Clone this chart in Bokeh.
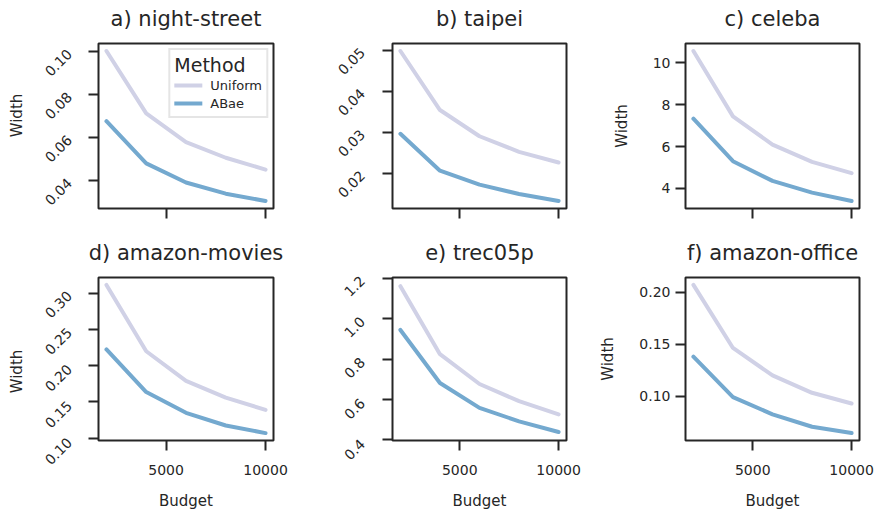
import math
from bokeh.plotting import figure
from bokeh.layouts import column, row
from bokeh.models import (FixedTicker, PrintfTickFormatter, Range1d, Legend, LegendItem,
                          LinearAxis)
from bokeh.core.properties import value
from bokeh.embed import file_html
from bokeh.resources import INLINE

budget = [2000, 4000, 6000, 8000, 10000]

titles = ["a) night-street", "b) taipei", "c) celeba",
          "d) amazon-movies", "e) trec05p", "f) amazon-office"]

uniform_night = [0.1003, 0.0713, 0.0580, 0.0507, 0.0452]
abae_night = [0.0677, 0.0481, 0.0392, 0.0340, 0.0306]
uniform_taipei = [0.0498, 0.0354, 0.0290, 0.0252, 0.0226]
abae_taipei = [0.0296, 0.0206, 0.0172, 0.0149, 0.0132]
uniform_celeba = [10.56, 7.44, 6.09, 5.27, 4.73]
abae_celeba = [7.33, 5.30, 4.36, 3.80, 3.40]
uniform_movies = [0.3116, 0.220, 0.179, 0.156, 0.139]
abae_movies = [0.2225, 0.1636, 0.135, 0.1175, 0.107]
uniform_trec = [1.161, 0.824, 0.676, 0.591, 0.525]
abae_trec = [0.944, 0.681, 0.558, 0.491, 0.438]
uniform_office = [0.2071, 0.1464, 0.120, 0.1032, 0.0929]
abae_office = [0.138, 0.099, 0.0825, 0.0705, 0.0644]

y_ticks = [[0.04, 0.06, 0.08, 0.10], [0.02, 0.03, 0.04, 0.05], [4, 6, 8, 10],
           [0.10, 0.15, 0.20, 0.25, 0.30], [0.4, 0.6, 0.8, 1.0, 1.2], [0.10, 0.15, 0.20]]
y_formats = ["%.2f", "%.2f", "%d", "%.2f", "%.1f", "%.2f"]
x_ticks = [5000, 10000]
method_names = ["Uniform", "ABae"]

series = [(uniform_night, abae_night), (uniform_taipei, abae_taipei),
          (uniform_celeba, abae_celeba), (uniform_movies, abae_movies),
          (uniform_trec, abae_trec), (uniform_office, abae_office)]

C_UNI = "#d0d1e6"
C_ABAE = "#74a9cf"
TXT = "#262626"
FONT = "DejaVu Sans"
X_START, X_END = 1600, 10400
FRAME_H = 165
PANEL_W = 293
RIGHT_B = 20
TICK_B = 12          # left border of a main figure whose labels sit in a strip
LABEL_ANCHOR = 69    # px from panel left where rotated labels end

rotated = [True, True, False, True, True, False]
has_ylabel = [True, False, True, True, False, True]


def style_axis(ax):
    ax.axis_line_color = None
    ax.major_tick_line_color = TXT
    ax.major_tick_line_width = 2
    ax.major_tick_out = 10
    ax.major_tick_in = 0
    ax.minor_tick_line_color = None
    ax.major_label_text_font = FONT
    ax.major_label_text_font_size = "14px"
    ax.major_label_text_color = TXT
    ax.axis_label_text_font = FONT
    ax.axis_label_text_font_size = "15px"
    ax.axis_label_text_font_style = "normal"
    ax.axis_label_text_color = TXT


def y_limits(i):
    uni, ab = series[i]
    lo = min(min(uni), min(ab))
    hi = max(max(uni), max(ab))
    if i == 4:
        lo = min(lo, min(y_ticks[i]))
        hi = max(hi, max(y_ticks[i]))
        pad = (hi - lo) * 0.005
    else:
        pad = (hi - lo) * 0.05
    return lo - pad, hi + pad


def make_label_strip(i, y0, y1, top, bottom, height, width):
    k = (y1 - y0) / FRAME_H
    left_b = 30 if has_ylabel[i] else 0
    f = figure(width=width, height=height, output_backend="svg", toolbar_location=None,
               x_range=Range1d(0, 1), y_range=Range1d(y0 - bottom * k, y1 + top * k),
               x_axis_type=None, y_axis_type=None,
               min_border_left=left_b, min_border_right=0,
               min_border_top=0, min_border_bottom=0)
    try:
        # keep this strip's frame the full height instead of aligning it to the panel's frame
        f.frame_align = False
    except Exception:
        f.y_range = Range1d(y0, y1)
    f.outline_line_color = None
    f.background_fill_color = "white"
    f.border_fill_color = "white"
    labels = [y_formats[i] % v for v in y_ticks[i]]
    f.text(x=[1] * len(labels), y=y_ticks[i], text=labels,
           angle=math.pi / 4, text_align="right", text_baseline="middle",
           x_offset=LABEL_ANCHOR - width,
           text_font=value(FONT), text_font_size=value("14px"), text_color=TXT)
    if has_ylabel[i]:
        ax = LinearAxis(ticker=FixedTicker(ticks=[]), bounds=(y0, y1), axis_label="Width")
        style_axis(ax)
        ax.major_tick_out = 0
        ax.major_label_standoff = 0
        ax.axis_label_standoff = 5
        f.add_layout(ax, "left")
    return f


def make_panel(i):
    top_row = i < 3
    col = i % 3
    height = 230 if top_row else 282
    left = 98 if col == 0 else 99
    frame_w = PANEL_W - left - RIGHT_B
    top = 43 if top_row else 47
    bottom = 22 if top_row else 70
    uni, ab = series[i]
    y0, y1 = y_limits(i)
    main_left = TICK_B if rotated[i] else left
    main_w = main_left + frame_w + RIGHT_B
    p = figure(width=main_w, height=height, output_backend="svg", toolbar_location=None,
               x_range=Range1d(X_START, X_END), y_range=Range1d(y0, y1),
               x_axis_type=None, y_axis_type=None,
               min_border_left=main_left, min_border_right=RIGHT_B,
               min_border_top=top, min_border_bottom=bottom)
    p.outline_line_color = TXT
    p.outline_line_width = 2
    p.outline_line_alpha = 1
    p.background_fill_color = "white"
    p.border_fill_color = "white"

    bx = LinearAxis(ticker=FixedTicker(ticks=x_ticks), formatter=PrintfTickFormatter(format="%d"))
    ly = LinearAxis(ticker=FixedTicker(ticks=y_ticks[i]),
                    formatter=PrintfTickFormatter(format=y_formats[i]))
    style_axis(bx)
    style_axis(ly)
    ly.major_label_standoff = 5
    if rotated[i]:
        ly.major_label_overrides = {t: "" for t in y_ticks[i]}
        ly.major_label_standoff = 0
    elif has_ylabel[i]:
        ly.axis_label = "Width"
        ly.axis_label_standoff = 19
    if top_row:
        bx.major_label_overrides = {t: "" for t in x_ticks}
    else:
        bx.axis_label = "Budget"
        bx.axis_label_standoff = 14
        bx.major_label_standoff = 14
    p.add_layout(bx, "below")
    p.add_layout(ly, "left")

    # panel title as the label of a tick-less axis above the frame
    tax = LinearAxis(ticker=FixedTicker(ticks=[]), axis_label=titles[i])
    style_axis(tax)
    tax.major_tick_out = 0
    tax.major_label_standoff = 0
    tax.axis_label_standoff = 13
    tax.axis_label_text_font_size = "21px"
    p.add_layout(tax, "above")

    r1 = p.line(budget, uni, line_color=C_UNI, line_width=4, line_cap="round")
    r2 = p.line(budget, ab, line_color=C_ABAE, line_width=4, line_cap="round")

    if i == 0:
        legend = Legend(items=[LegendItem(label=method_names[0], renderers=[r1]),
                               LegendItem(label=method_names[1], renderers=[r2])],
                        location="top_right", title="Method")
        legend.margin = 5
        legend.padding = 4
        legend.spacing = 0
        legend.glyph_width = 28
        legend.glyph_height = 18
        legend.label_height = 18
        legend.label_standoff = 8
        legend.label_text_font = FONT
        legend.label_text_font_size = "13px"
        legend.label_text_color = TXT
        legend.title_text_font = FONT
        legend.title_text_font_size = "19px"
        legend.title_text_font_style = "normal"
        legend.title_text_color = TXT
        legend.title_standoff = 0
        legend.border_line_color = "#cccccc"
        legend.border_line_width = 2
        legend.background_fill_alpha = 0.9
        p.add_layout(legend, "center")

    if rotated[i]:
        strip = make_label_strip(i, y0, y1, top, bottom, height, left - TICK_B)
        return [strip, p]
    return [p]


top_items, bottom_items = [], []
for i in range(6):
    (top_items if i < 3 else bottom_items).extend(make_panel(i))
layout = column(row(*top_items), row(*bottom_items))
open("out.html", "w").write(file_html(layout, INLINE))
